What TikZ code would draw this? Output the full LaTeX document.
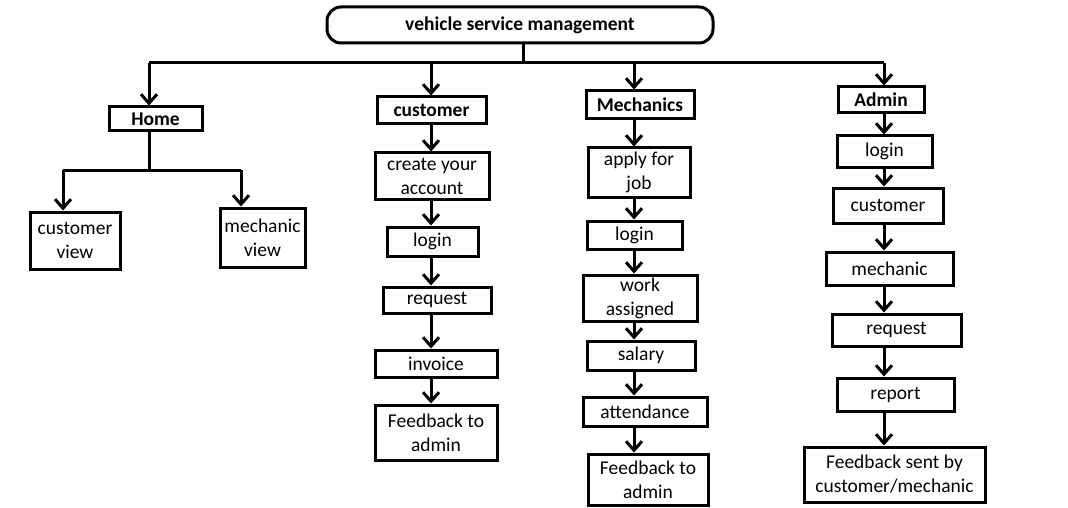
\documentclass[tikz,border=0pt]{standalone}
\usepackage{fontspec}
\setmainfont{Carlito}
\usetikzlibrary{arrows.meta}

\begin{document}
\begin{tikzpicture}%
  [x=1pt,y=-1pt,
   box/.style=
    {draw,line width=3pt,inner sep=0pt,align=center,font=\fontsize{19.5}{24}\selectfont},
   head/.style=
    {box,font=\fontsize{19.5}{24}\selectfont\bfseries},
   title/.style={head,rounded corners=14pt},
   link/.style={line width=3pt},
   flow/.style={link,-{Straight Barb[length=9pt,width=16pt]}}
  ]
  \useasboundingbox (0,0) rectangle (1068,508);

  % top of the tree
  \node[title,minimum width=386pt,minimum height=36pt] (vsm) at (520,25) {vehicle service management};
  \coordinate (bus) at (523,63);
  \coordinate (colH) at (149,63);
  \coordinate (colC) at (431,63);
  \coordinate (colM) at (634,63);
  \coordinate (colA) at (884,63);

  \node[head,minimum width=93pt,minimum height=24pt] (home) at (155.5,119) {Home};
  \node[head,minimum width=109pt,minimum height=27pt] (cust) at (431.5,110.5) {customer};
  \node[head,minimum width=108pt,minimum height=28pt] (mech) at (640,105) {Mechanics};
  \node[head,minimum width=86pt,minimum height=26pt] (admin) at (881,100) {Admin};

  \draw[link] (vsm.south -| bus) -- (bus);
  \draw[link] (colH) -- (colA);
  \draw[flow] (colH) -- (home.north -| colH);
  \draw[flow] (colC) -- (cust.north -| colC);
  \draw[flow] (colM) -- (mech.north -| colM);
  \draw[flow] (colA) -- (admin.north -| colA);

  % home
  \node[box,minimum width=90pt,minimum height=57pt] (cview) at (75,240.5) {customer\\view};
  \node[box,minimum width=85pt,minimum height=59pt] (mview) at (262.5,237.5) {mechanic\\view};
  \coordinate (hbus) at (149,170);
  \draw[link] (home.south -| hbus) -- (hbus);
  \draw[link] (63,170) -- (241,170);
  \draw[flow] (63,170) -- (cview.north -| 63,0);
  \draw[flow] (241,170) -- (mview.north -| 241,0);

  % customer
  \node[box,minimum width=114pt,minimum height=46pt] (cacc) at (432,176) {create your\\account};
  \node[box,minimum width=91pt,minimum height=29pt] (clogin) at (432.5,241.5) {login};
  \node[box,minimum width=108pt,minimum height=26pt] (creq) at (437,300) {request};
  \node[box,minimum width=122pt,minimum height=27pt] (cinv) at (436,363.5) {invoice};
  \node[box,minimum width=122pt,minimum height=55pt] (cfb) at (436,432.5) {Feedback to\\admin};
  \draw[flow] (cust.south -| colC) -- (cacc.north -| colC);
  \draw[flow] (cacc.south -| colC) -- (clogin.north -| colC);
  \draw[flow] (clogin.south -| colC) -- (creq.north -| colC);
  \draw[flow] (creq.south -| colC) -- (cinv.north -| colC);
  \draw[flow] (cinv.south -| colC) -- (cfb.north -| colC);

  % mechanics
  \node[box,minimum width=102pt,minimum height=49pt] (mapply) at (639,172.5) {apply for\\job};
  \node[box,minimum width=95pt,minimum height=28pt] (mlogin) at (634.5,235) {login};
  \node[box,minimum width=114pt,minimum height=46pt] (mwork) at (640,298) {work\\assigned};
  \node[box,minimum width=108pt,minimum height=29pt] (msal) at (641,355.5) {salary};
  \node[box,minimum width=124pt,minimum height=29pt] (matt) at (645,411.5) {attendance};
  \node[box,minimum width=120pt,minimum height=51pt] (mfb) at (648,479.5) {Feedback to\\admin};
  \draw[flow] (mech.south -| colM) -- (mapply.north -| colM);
  \draw[flow] (mapply.south -| colM) -- (mlogin.north -| colM);
  \draw[flow] (mlogin.south -| colM) -- (mwork.north -| colM);
  \draw[flow] (mwork.south -| colM) -- (msal.north -| colM);
  \draw[flow] (msal.south -| colM) -- (matt.north -| colM);
  \draw[flow] (matt.south -| colM) -- (mfb.north -| colM);

  % admin
  \node[box,minimum width=95pt,minimum height=31pt] (alogin) at (884.5,151.5) {login};
  \node[box,minimum width=110pt,minimum height=35pt] (acust) at (888,205.5) {customer};
  \node[box,minimum width=127pt,minimum height=33pt] (amech) at (889.5,268.5) {mechanic};
  \node[box,minimum width=129pt,minimum height=32pt] (areq) at (896.5,330) {request};
  \node[box,minimum width=117pt,minimum height=33pt] (arep) at (895.5,394.5) {report};
  \node[box,minimum width=181pt,minimum height=55pt] (afb) at (894.5,474.5) {Feedback sent by\\customer/mechanic};
  \draw[flow] (admin.south -| colA) -- (alogin.north -| colA);
  \draw[flow] (alogin.south -| colA) -- (acust.north -| colA);
  \draw[flow] (acust.south -| colA) -- (amech.north -| colA);
  \draw[flow] (amech.south -| colA) -- (areq.north -| colA);
  \draw[flow] (areq.south -| colA) -- (arep.north -| colA);
  \draw[flow] (arep.south -| colA) -- (afb.north -| colA);

\end{tikzpicture}
\end{document}
